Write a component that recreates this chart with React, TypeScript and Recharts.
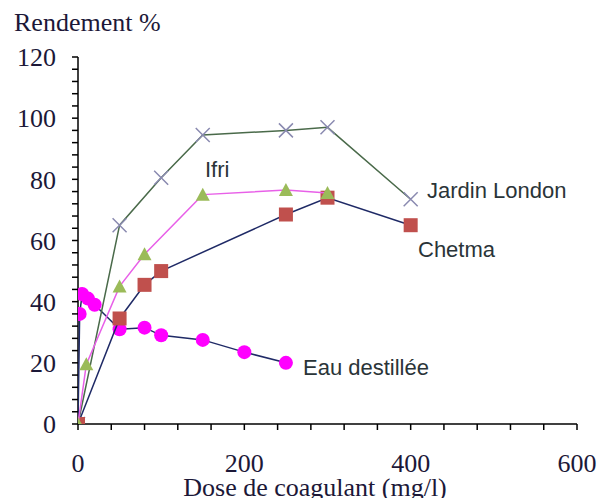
import { ScatterChart, Scatter, XAxis, YAxis } from 'recharts'

// dose (mg/l) ticks every 40, labels every 200
const doseTicks = [0, 40, 80, 120, 160, 200, 240, 280, 320, 360, 400, 440, 480, 520, 560, 600]
const yieldTicks = [
  0, 4, 8, 12, 16, 20, 24, 28, 32, 36, 40, 44, 48, 52, 56, 60,
  64, 68, 72, 76, 80, 84, 88, 92, 96, 100, 104, 108, 112, 116, 120,
]

const jardinDose = [0, 50, 100, 150, 250, 300, 400]
const jardinYield = [0, 65, 80.5, 94.5, 96, 97, 73.5]

const ifriDose = [0, 10, 50, 80, 150, 250, 300]
const ifriYield = [0, 19.5, 45, 55.5, 75, 76.5, 75.5]

const chetmaDose = [0, 50, 80, 100, 250, 300, 400]
const chetmaYield = [0, 34.5, 45.5, 50, 68.5, 74, 65]

const eauDose = [0, 2, 5, 12, 20, 50, 80, 100, 150, 200, 250]
const eauYield = [0, 36, 42.5, 41, 39, 31, 31.5, 29, 27.5, 23.5, 20]

const toPoints = (xs: number[], ys: number[]) => xs.map((x, i) => ({ x, y: ys[i] }))

const SERIF = '"Liberation Serif", "Times New Roman", serif'
const SANS = '"Liberation Sans", Arial, sans-serif'
const AXIS_TEXT = '#1c1838'
const NOTE_TEXT = '#2a3438'

const CrossMark = ({ cx, cy }: any) => (
  <path
    d={`M${cx - 7},${cy - 7}L${cx + 7},${cy + 7}M${cx - 7},${cy + 7}L${cx + 7},${cy - 7}`}
    stroke="#8a8ab0"
    strokeWidth={1.5}
    fill="none"
  />
)

const TriangleMark = ({ cx, cy }: any) => (
  <path d={`M${cx},${cy - 7}L${cx + 7},${cy + 6}L${cx - 7},${cy + 6}Z`} fill="#9bbb59" />
)

const SquareMark = ({ cx, cy }: any) => (
  <rect x={cx - 7} y={cy - 7} width={14} height={14} fill="#c0504d" />
)

const DotMark = ({ cx, cy }: any) => <circle cx={cx} cy={cy} r={7} fill="#ff00ff" />

export default function App() {
  return (
    <div style={{ position: 'absolute', left: 0, top: 0, background: '#fff' }}>
      <ScatterChart width={598} height={498} margin={{ top: 57, right: 21, bottom: 0, left: 0 }}>
        <XAxis
          type="number"
          dataKey="x"
          domain={[0, 600]}
          ticks={doseTicks}
          interval={0}
          tickFormatter={(v: number) => (v % 200 === 0 ? String(v) : '')}
          tick={{ fill: AXIS_TEXT, fontSize: 26, fontFamily: SERIF }}
          tickSize={6}
          tickMargin={24}
          height={74}
          stroke="#000"
          strokeWidth={1.5}
          allowDataOverflow
        />
        <YAxis
          type="number"
          dataKey="y"
          domain={[0, 120]}
          ticks={yieldTicks}
          interval={0}
          tickFormatter={(v: number) => (v % 20 === 0 ? String(v) : '')}
          tick={{ fill: AXIS_TEXT, fontSize: 26, fontFamily: SERIF }}
          tickSize={6}
          tickMargin={16}
          width={78}
          stroke="#000"
          strokeWidth={1.5}
          allowDataOverflow
        />
        <Scatter
          data={toPoints(eauDose, eauYield)}
          line={{ stroke: '#1f2a66', strokeWidth: 1.5 }}
          lineType="joint"
          shape={DotMark}
          isAnimationActive={false}
        />
        <Scatter
          data={toPoints(jardinDose, jardinYield)}
          line={{ stroke: '#4a6a4a', strokeWidth: 1.5 }}
          lineType="joint"
          shape={CrossMark}
          isAnimationActive={false}
        />
        <Scatter
          data={toPoints(chetmaDose, chetmaYield)}
          line={{ stroke: '#1f2a66', strokeWidth: 1.5 }}
          lineType="joint"
          shape={SquareMark}
          isAnimationActive={false}
        />
        <Scatter
          data={toPoints(ifriDose, ifriYield)}
          line={{ stroke: '#e860e8', strokeWidth: 1.5 }}
          lineType="joint"
          shape={TriangleMark}
          isAnimationActive={false}
        />
        <text x={14} y={31} fill={AXIS_TEXT} fontSize={26} fontFamily={SERIF}>Rendement %</text>
        <text x={315} y={496} textAnchor="middle" fill={AXIS_TEXT} fontSize={26} fontFamily={SERIF}>
          Dose de coagulant (mg/l)
        </text>
        <text x={205} y={177} fill={NOTE_TEXT} fontSize={22} fontFamily={SANS}>Ifri</text>
        <text x={427} y={198} fill={NOTE_TEXT} fontSize={22} fontFamily={SANS}>Jardin London</text>
        <text x={418} y={257} fill={NOTE_TEXT} fontSize={22} fontFamily={SANS}>Chetma</text>
        <text x={303} y={375} fill={NOTE_TEXT} fontSize={22} fontFamily={SANS}>Eau destillée</text>
      </ScatterChart>
    </div>
  )
}
